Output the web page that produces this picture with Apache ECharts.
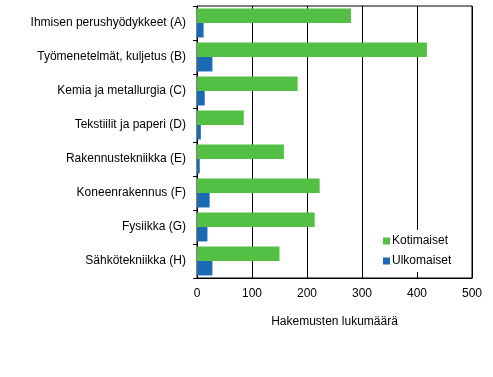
<!DOCTYPE html>
<html>
<head>
<meta charset="utf-8">
<script src="https://cdn.jsdelivr.net/npm/echarts@6/dist/echarts.min.js"></script>
<style>
  html, body { margin: 0; padding: 0; background: #fff; }
  #chart { width: 493px; height: 377px; }
</style>
</head>
<body>
<div id="chart"></div>
<script>
// categories (top to bottom)
var categories = [
  'Ihmisen perushyödykkeet (A)',
  'Työmenetelmät, kuljetus (B)',
  'Kemia ja metallurgia (C)',
  'Tekstiilit ja paperi (D)',
  'Rakennustekniikka (E)',
  'Koneenrakennus (F)',
  'Fysiikka (G)',
  'Sähkötekniikka (H)'
];
var kotimaiset = [280, 418, 183, 85, 158, 223, 214, 150];
var ulkomaiset = [12, 28, 14, 7, 5, 23, 19, 28];
var xTicks = { min: 0, max: 500, step: 100 };

var font = 'Liberation Sans, Arial, sans-serif';
var chart = echarts.init(document.getElementById('chart'));
chart.setOption({
  animation: false,
  textStyle: { fontFamily: font },
  grid: {
    left: 197, top: 6, right: 21, bottom: 99,
    show: true, borderColor: '#000', borderWidth: 1
  },
  legend: {
    orient: 'vertical',
    left: 379, top: 230,
    padding: [5, 10, 5, 4],
    backgroundColor: '#fff',
    itemWidth: 7, itemHeight: 7, itemGap: 8,
    icon: 'rect',
    textStyle: { color: '#000', fontSize: 12, fontFamily: font, padding: [0, 0, 0, -3] },
    data: ['Kotimaiset', 'Ulkomaiset']
  },
  xAxis: {
    type: 'value',
    min: xTicks.min, max: xTicks.max, interval: xTicks.step,
    name: 'Hakemusten lukumäärä',
    nameLocation: 'middle',
    nameGap: 38,
    nameTextStyle: { color: '#000', fontSize: 12, fontFamily: font },
    axisLine: { show: true, lineStyle: { color: '#000' } },
    axisTick: { show: false },
    axisLabel: { color: '#000', fontSize: 12, margin: 10, fontFamily: font },
    splitLine: { show: true, lineStyle: { color: '#000', width: 1 } }
  },
  yAxis: {
    type: 'category',
    inverse: true,
    data: categories,
    axisLine: { show: true, lineStyle: { color: '#000' } },
    axisTick: { show: true, length: 4, lineStyle: { color: '#000' } },
    axisLabel: { color: '#000', fontSize: 12, margin: 11, fontFamily: font },
    splitLine: { show: false }
  },
  series: [
    {
      name: 'Kotimaiset', type: 'bar', data: kotimaiset,
      itemStyle: { color: '#53bf45' },
      barGap: 0, barCategoryGap: '15%'
    },
    {
      name: 'Ulkomaiset', type: 'bar', data: ulkomaiset,
      itemStyle: { color: '#1a6ab4' },
      barGap: 0, barCategoryGap: '15%'
    }
  ]
});
</script>
</body>
</html>
